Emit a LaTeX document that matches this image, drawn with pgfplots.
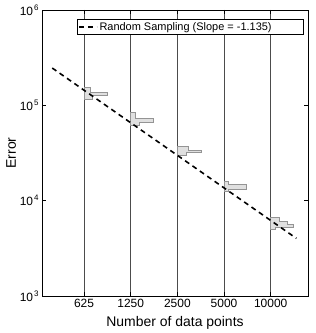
\documentclass[border=0pt]{standalone}
\usepackage{fontspec}
\setmainfont{Liberation Sans}
\usepackage{pgfplots}
\pgfplotsset{compat=1.18}
\newcommand{\tl}[1]{10\kern1pt\raisebox{0.75ex}{\fontsize{8}{9}\selectfont #1}}
\begin{document}
\begin{tikzpicture}
\begin{axis}[
  scale only axis, width=266bp, height=286bp,
  xmode=log, log basis x=2, ymode=log,
  xmin=335, xmax=17400, ymin=1e3, ymax=1e6,
  xtick={625,1250,2500,5000,10000},
  xticklabels={625,1250,2500,5000,10000},
  ytick={1e3,1e4,1e5,1e6},
  yticklabels={\tl{3},\tl{4},\tl{5},\tl{6}},
  xminorticks=false, yminorticks=false,
  xmajorgrids, major grid style={black!70, line width=0.5pt},
  tick align=inside, major tick length=4bp,
  tick style={black, line width=0.5pt},
  axis line style={black, line width=0.7pt},
  ticklabel style={font=\fontsize{12}{14}\selectfont},
  label style={font=\fontsize{14}{16}\selectfont},
  xlabel={Number of data points}, ylabel={Error},
  xlabel style={yshift=-2bp},
  ylabel style={yshift=-3bp},
  legend style={at={(0.985,0.969)}, anchor=north east, draw=black, line width=0.8pt,
    font=\fontsize{11}{13}\selectfont, inner xsep=1bp, inner ysep=1bp, cells={anchor=west}},
  legend image code/.code={\draw[#1] (0bp,0bp) -- (18bp,0bp);},
]
\coordinate (bl) at (rel axis cs:0,0);
\coordinate (tr) at (rel axis cs:1,1);
\pgfplotsset{vio/.style={fill=black!12, draw=black!42, line width=0.6pt, forget plot}}
% 625
\addplot[vio] coordinates {(625,155600) (683,155600) (683,137900) (879,137900) (879,126700) (704,126700) (704,116500) (625,116500)} -- cycle;
% 1250
\addplot[vio] coordinates {(1250,85070) (1346,85070) (1346,72690) (1759,72690) (1759,66810) (1429,66810) (1429,61380) (1250,61380)} -- cycle;
% 2500
\addplot[vio] coordinates {(2500,36960) (2943,36960) (2943,33970) (3570,33970) (3570,31970) (2858,31970) (2858,30100) (2500,30100)} -- cycle;
% 5000
\addplot[vio] coordinates {(5000,15870) (5306,15870) (5306,14940) (6931,14940) (6931,13080) (5306,13080) (5306,12610) (5000,12610)} -- cycle;
% 10000
\addplot[vio] coordinates {(10000,6647) (11430,6647) (11430,6108) (12870,6108) (12870,5682) (14070,5682) (14070,5221) (10770,5221) (10770,5035) (10000,5035)} -- cycle;
% fit line
\addplot[black, line width=1.6pt, dash pattern=on 5bp off 4bp] coordinates {(390,246200) (14640,4021)};
\addlegendentry{Random Sampling (Slope = -1.135)\rule{29bp}{0pt}}
\end{axis}
\pgfresetboundingbox
\useasboundingbox ([shift={(-42bp,-37bp)}]bl) rectangle ([shift={(7bp,10bp)}]tr);
\end{tikzpicture}
\end{document}
